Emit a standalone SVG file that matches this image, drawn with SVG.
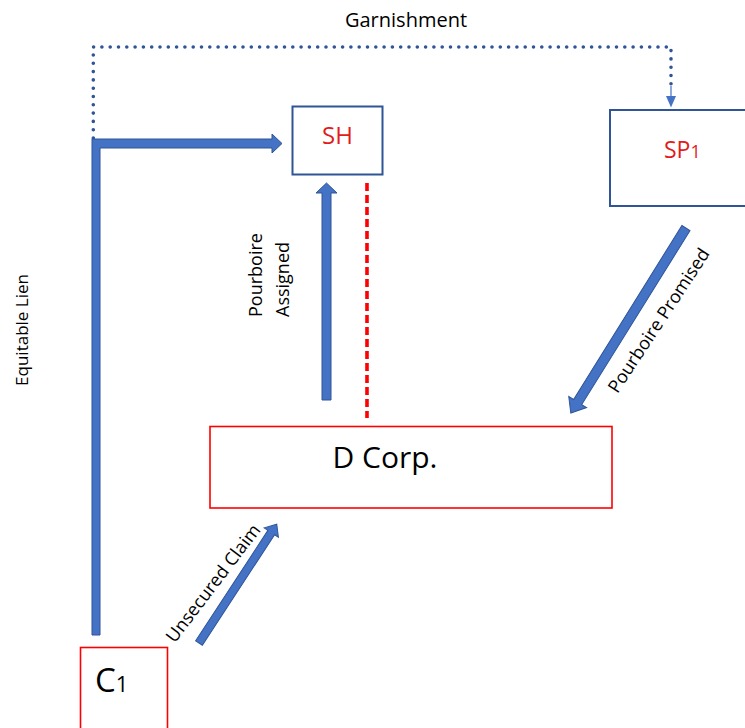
<svg xmlns="http://www.w3.org/2000/svg" width="745" height="728" viewBox="0 0 745 728">
  <style>
    text { font-family: "Open Sans", "Liberation Sans", sans-serif; fill: #000; }
    .lbl { font-size: 18px; }
    .blueBox { fill: #fff; stroke: #2F5597; stroke-width: 2; }
    .redBox { fill: #fff; stroke: #FF0000; stroke-width: 1.6; }
    .redTxt { fill: #E21B1B; }
    .block { fill: #4472C4; stroke: #2F5597; stroke-width: 1; }
    .dots { fill: none; stroke: #2F5597; stroke-width: 3.6; stroke-linecap: round; stroke-dasharray: 0 8.3; }
  </style>
  <rect width="745" height="728" fill="#fff"/>

  <!-- nodes -->
  <g id="node-sh">
    <rect class="blueBox" x="292.5" y="106.5" width="90" height="68"/>
    <text class="redTxt" x="337.5" y="144" font-size="24" text-anchor="middle">SH</text>
  </g>
  <g id="node-sp1">
    <rect class="blueBox" x="610" y="110" width="140" height="96"/>
    <text class="redTxt" x="664" y="158" font-size="23">SP<tspan font-size="18">1</tspan></text>
  </g>
  <g id="node-dcorp">
    <rect class="redBox" x="210" y="426.5" width="402" height="81.5"/>
    <text x="385" y="468" font-size="30" text-anchor="middle">D Corp.</text>
  </g>
  <g id="node-c1">
    <rect class="redBox" x="80.5" y="647.5" width="87" height="90"/>
    <text x="95" y="692" font-size="33">C<tspan font-size="22">1</tspan></text>
  </g>

  <!-- connectors -->
  <g id="connectors">
    <!-- garnishment: dotted path from the lien corner over to SP1 -->
    <path class="dots" d="M93.3,138 V47 H671 V86"/>
    <line x1="671" y1="86" x2="671" y2="97" stroke="#4472C4" stroke-width="1.2"/>
    <polygon points="666,96 676,96 671,107.5" fill="#4472C4"/>

    <!-- equitable lien: L-shaped block arrow from C1 up and across to SH -->
    <polygon class="block" points="92,635 92,139 272,139 272,134 282,143.5 272,153 272,148 100,148 100,635"/>

    <!-- pourboire assigned: D Corp up to SH -->
    <polygon class="block" points="322,400 322,193 316,193 326.5,183 337,193 331,193 331,400"/>

    <!-- red dashed tie between SH and D Corp -->
    <line x1="367" y1="183" x2="367" y2="418" stroke="#FF0000" stroke-width="3.6" stroke-dasharray="8 4"/>

    <!-- pourboire promised: SP1 down to D Corp -->
    <path class="block" d="M0,-4.8 H205 V-10.5 L218,0 L205,10.5 V4.8 H0 Z" transform="translate(686,228) rotate(121.9)"/>

    <!-- unsecured claim: C1 up to D Corp -->
    <path class="block" d="M0,-4 H132 V-8.5 L142,0 L132,8.5 V4 H0 Z" transform="translate(199,643) rotate(-56.8)"/>
  </g>

  <!-- connector labels -->
  <g id="labels">
    <text x="406" y="27" font-size="20" text-anchor="middle">Garnishment</text>
    <text font-size="17" transform="translate(28,330) rotate(-90)" text-anchor="middle">Equitable Lien</text>
    <text class="lbl" transform="translate(262,317) rotate(-90)">Pourboire</text>
    <text class="lbl" transform="translate(289,317) rotate(-90)">Assigned</text>
    <text class="lbl" transform="translate(664,324) rotate(-56.6)" text-anchor="middle">Pourboire Promised</text>
    <text class="lbl" transform="translate(218,587) rotate(-52.7)" text-anchor="middle">Unsecured Claim</text>
  </g>
</svg>
